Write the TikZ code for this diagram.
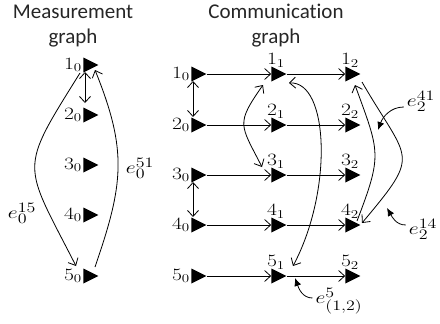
\documentclass[tikz,border=0pt]{standalone}
\usepackage{fontspec}
\usepackage{graphicx}
\newfontfamily\ttlfont[Ligatures=NoCommon]{Carlito}
\usetikzlibrary{positioning,shapes.geometric,arrows.meta}
\newcommand{\wlab}[1]{\scalebox{1.25}[1]{$#1$}}
\tikzset{
  % --- nodes
  tri/.style  = {isosceles triangle, isosceles triangle stretches, fill=black, draw=none,
                 minimum width=15pt, minimum height=15pt, inner sep=0pt},
  lbl/.style  = {font=\fontsize{18}{21}\selectfont, inner sep=1pt},
  elbl/.style = {font=\fontsize{19}{22}\selectfont, inner sep=1pt},
  ttl/.style  = {font=\ttlfont\fontsize{21}{25}\selectfont, align=center, text=black!85},
  % --- edges
  e/.style    = {-{Straight Barb[length=6pt,width=11pt]}, line width=0.8pt},
  ed/.style   = {{Straight Barb[length=6pt,width=11pt]}-{Straight Barb[length=6pt,width=11pt]}, line width=0.8pt},
  ptr/.style  = {-{Latex[length=8pt,width=7pt]}, line width=0.8pt},
}
\begin{document}
\begin{tikzpicture}[x=1pt,y=1pt]
  \useasboundingbox (0,0) rectangle (440,-324);
  % titles
  \node[ttl] (tm) at (73,-26) {Measurement\\graph};
  \node[ttl] (tc) at (276,-26) {Communication\\graph};

  % measurement graph
  \node[tri,label={[lbl]left:\wlab{1_0}}] (m1) at (88,-65) {};
  \node[tri,label={[lbl]left:\wlab{2_0}}] (m2) at (88,-115) {};
  \node[tri,label={[lbl]left:\wlab{3_0}}] (m3) at (88,-165) {};
  \node[tri,label={[lbl]left:\wlab{4_0}}] (m4) at (88,-215) {};
  \node[tri,label={[lbl]left:\wlab{5_0}}] (m5) at (88,-276) {};
  \draw[ed] ([shift={(-3,-7)}]m1.center) -- ([shift={(-3,12)}]m2.center);
  \draw[e] ([shift={(-8,-8)}]m1.center) to[out=-122,in=117,looseness=1.55] ([shift={(-12,10)}]m5.center);
  \draw[e] ([shift={(7,9)}]m5.center) to[out=71,in=-68,looseness=1.14] ([shift={(7,-5)}]m1.center);
  \node[elbl] (l15) at (22,-213) {\wlab{e_0^{15}}};
  \node[elbl] (l51) at (140,-168) {\wlab{e_0^{51}}};

  % communication graph, step 0
  \node[tri,label={[lbl]left:\wlab{1_0}}] (c01) at (196,-74) {};
  \node[tri,label={[lbl]left:\wlab{2_0}}] (c02) at (196,-125) {};
  \node[tri,label={[lbl]left:\wlab{3_0}}] (c03) at (196,-175) {};
  \node[tri,label={[lbl]left:\wlab{4_0}}] (c04) at (196,-225) {};
  \node[tri,label={[lbl]left:\wlab{5_0}}] (c05) at (196,-276) {};
  % step 1
  \node[tri,label={[lbl]above:\wlab{1_1}}] (c11) at (276,-74) {};
  \node[tri,label={[lbl]above:\wlab{2_1}}] (c12) at (276,-125) {};
  \node[tri,label={[lbl]above:\wlab{3_1}}] (c13) at (276,-175) {};
  \node[tri,label={[lbl]above:\wlab{4_1}}] (c14) at (276,-225) {};
  \node[tri,label={[lbl]above:\wlab{5_1}}] (c15) at (276,-276) {};
  % step 2
  \node[tri,label={[lbl]above:\wlab{1_2}}] (c21) at (350,-74) {};
  \node[tri,label={[lbl]above:\wlab{2_2}}] (c22) at (350,-125) {};
  \node[tri,label={[lbl]above:\wlab{3_2}}] (c23) at (350,-175) {};
  \node[tri,label={[lbl]above:\wlab{4_2}}] (c24) at (350,-225) {};
  \node[tri,label={[lbl]above:\wlab{5_2}}] (c25) at (350,-276) {};

  \draw[e] (c01.east)--(c11.west); \draw[e] (c02.east)--(c12.west); \draw[e] (c03.east)--(c13.west);
  \draw[e] (c04.east)--(c14.west); \draw[e] (c05.east)--(c15.west);
  \draw[e] (c11.east)--(c21.west); \draw[e] (c12.east)--(c22.west); \draw[e] (c13.east)--(c23.west);
  \draw[e] (c14.east)--(c24.west); \draw[e] (c15.east)--(c25.west);
  \draw[ed] ([shift={(-3,-7)}]c01.center) -- ([shift={(-3,8)}]c02.center);
  \draw[ed] ([shift={(-3,-7)}]c03.center) -- ([shift={(-3,8)}]c04.center);
  \draw[ed] ([shift={(-13,-11)}]c11.center) to[out=-125,in=117,looseness=1.5] ([shift={(-14,8)}]c13.center);
  \draw[ed] ([shift={(13,-9)}]c11.center) .. controls +(40,2) and +(40,75) .. ([shift={(17,10)}]c15.center);
  \draw[e] ([shift={(12,-8)}]c21.center) to[out=-60,in=50,looseness=1.7] ([shift={(12,2)}]c24.center);
  \draw[e] ([shift={(7,4)}]c24.center) to[out=69,in=-70,looseness=1.35] ([shift={(5,-11)}]c21.center);

  % edge labels
  \node[elbl] (l41) at (421,-101) {\wlab{e_2^{41}}};
  \node[elbl] (l14) at (423,-229) {\wlab{e_2^{14}}};
  \node[elbl] (l5) at (339,-301) {\wlab{e^5_{(1,2)}}};
  \coordinate (p41) at (378,-130);
  \coordinate (p14) at (387,-208);
  \coordinate (p5) at (295,-278);
  \draw[ptr] ([shift={(-2,-6)}]l41.west) to[out=180,in=70] (p41);
  \draw[ptr] ([shift={(-2,4)}]l14.west) to[out=180,in=-60] (p14);
  \draw[ptr] ([shift={(-2,3)}]l5.west) to[out=180,in=-70] (p5);
\end{tikzpicture}
\end{document}
